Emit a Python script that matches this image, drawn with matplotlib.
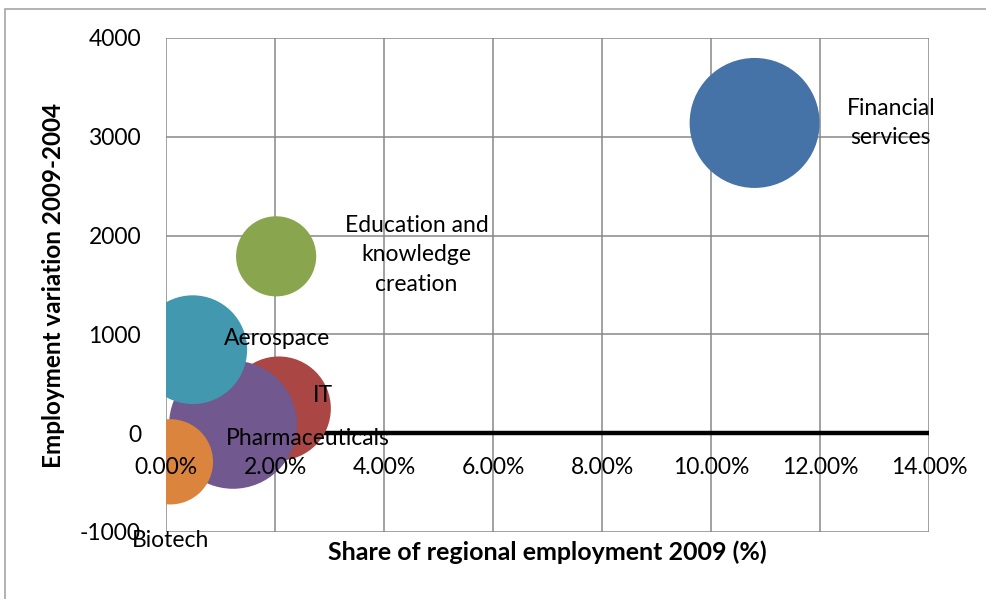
import matplotlib
matplotlib.use("Agg")
import matplotlib.pyplot as plt
import matplotlib.patches as mpatches
from matplotlib.ticker import PercentFormatter, MultipleLocator

plt.rcParams["font.family"] = ["Lato", "DejaVu Sans"]
plt.rcParams["axes.unicode_minus"] = False

# Cluster data: share of regional employment (2009), employment change 2004-2009,
# relative bubble size
clusters = ["Financial\nservices", "Education and\nknowledge\ncreation", "IT",
            "Pharmaceuticals", "Aerospace", "Biotech"]
share_2009 = [0.108, 0.0202, 0.0207, 0.0123, 0.0049, 0.0008]
emp_change = [3140, 1790, 250, 85, 845, -290]
bubble_size = [100, 38, 64, 97, 70, 43]
colors = ["#4572A7", "#89A54E", "#AA4643", "#71588F", "#4198AF", "#DB843D"]

# label offsets from bubble centre, in points
label_offsets = [(98, 0), (101, 1), (32, 9), (54, -10), (61, 8), (0, -57)]

AX_RECT = [0.1684, 0.1119, 0.7738, 0.8247]
fig = plt.figure(figsize=(9.86, 5.99), dpi=100)
ax = fig.add_axes(AX_RECT)

SIZE_SCALE = 87.6  # points^2 per size unit
for i, name in enumerate(clusters):
    ax.scatter(share_2009[i], emp_change[i], s=bubble_size[i] * SIZE_SCALE,
               color=colors[i], edgecolors="none", zorder=3 + i)
    ax.annotate(name, (share_2009[i], emp_change[i]), xytext=label_offsets[i],
                textcoords="offset points", ha="center", va="center",
                fontsize=16.5, color="black", zorder=20, linespacing=1.5)

ax.set_xlim(0, 0.14)
ax.set_ylim(-1000, 4000)
ax.xaxis.set_major_locator(MultipleLocator(0.02))
ax.yaxis.set_major_locator(MultipleLocator(1000))

ax.grid(True, color="#878787", linewidth=1.1)
ax.set_axisbelow(True)

for side in ["left", "top", "right"]:
    ax.spines[side].set_visible(False)
# horizontal axis crosses at zero, drawn heavy
ax.spines["bottom"].set_position(("data", 0))
ax.spines["bottom"].set_linewidth(3.2)
ax.spines["bottom"].set_color("black")
ax.spines["bottom"].set_capstyle("butt")
ax.spines["bottom"].set_zorder(2)
ax.tick_params(axis="both", length=0, labelbottom=False, labelleft=False)

# transparent overlay carrying the tick labels so they sit above the bubbles
lab = fig.add_axes(AX_RECT, sharex=ax, sharey=ax, frameon=False)
lab.patch.set_visible(False)
lab.xaxis.set_major_formatter(PercentFormatter(xmax=1, decimals=2))
lab.spines["bottom"].set_position(("data", 0))
lab.tick_params(axis="both", length=0, labelsize=16.5)
lab.tick_params(axis="x", pad=17)
lab.tick_params(axis="y", pad=18)

fig.text(547 / 986, 1 - 552 / 599, "Share of regional employment 2009 (%)",
         ha="center", va="center", fontsize=18, fontweight="bold")
fig.text(54 / 986, 1 - 285 / 599, "Employment variation 2009-2004",
         ha="center", va="center", rotation=90, fontsize=17.5, fontweight="bold")

# chart area border
fig.patches.append(mpatches.Rectangle((5 / 986, -0.1), 1.2, 1 - 9 / 599 + 0.1,
                                      transform=fig.transFigure, fill=False,
                                      edgecolor="#a6a6a6", linewidth=1.2))

fig.savefig("out.png", dpi=100)
